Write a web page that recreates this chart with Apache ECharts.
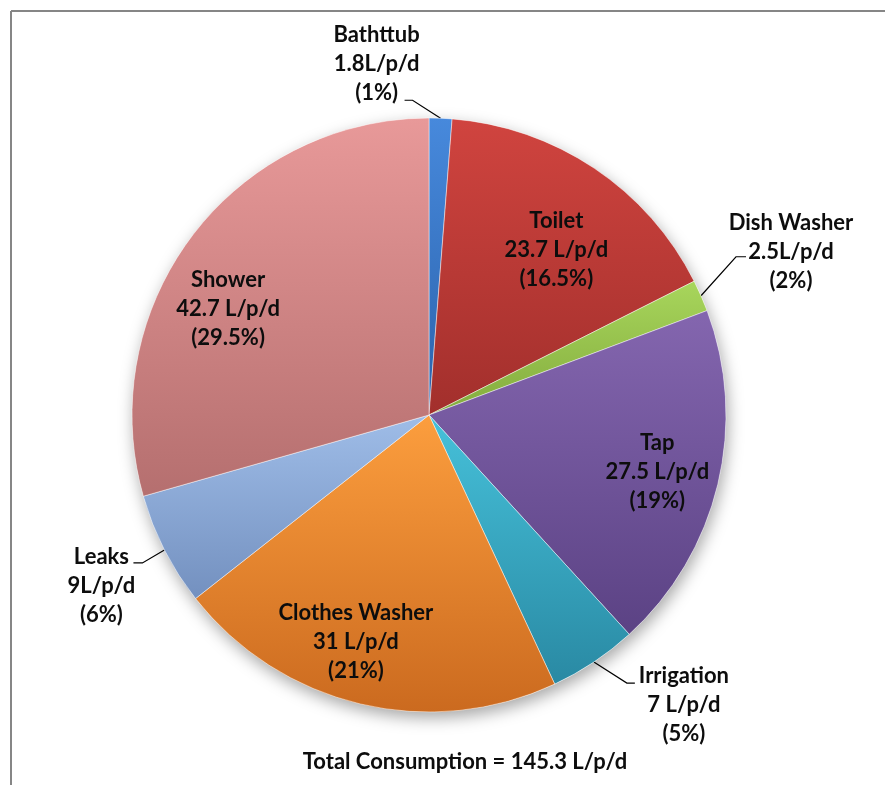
<!DOCTYPE html>
<html>
<head>
<meta charset="utf-8">
<title>Household water use</title>
<script src="https://cdn.jsdelivr.net/npm/echarts@6/dist/echarts.min.js"></script>
<style>
  html, body { margin: 0; padding: 0; background: #ffffff; }
  #chart { width: 885px; height: 785px; }
</style>
</head>
<body>
<div id="chart"></div>
<script>
// Daily household water use per person, by end use (litres / person / day)
const categories = ['Bathttub', 'Toilet', 'Dish Washer', 'Tap', 'Irrigation', 'Clothes Washer', 'Leaks', 'Shower'];
const usage = [1.8, 23.7, 2.5, 27.5, 7, 31, 9, 42.7];
const usageText = ['1.8L/p/d', '23.7 L/p/d', '2.5L/p/d', '27.5 L/p/d', '7 L/p/d', '31 L/p/d', '9L/p/d', '42.7 L/p/d'];
const shareText = ['(1%)', '(16.5%)', '(2%)', '(19%)', '(5%)', '(21%)', '(6%)', '(29.5%)'];
const totalText = 'Total Consumption = 145.3 L/p/d';

// ---- styling ----
const FONT = 'Lato, "Open Sans", "Liberation Sans", sans-serif';
const FONT_SIZE = 22;
const TEXT_COLOR = '#0d0d0d';
const PIE_CENTER = [429, 415];
const PIE_RADIUS = 297;

// top / bottom colour of each slice's vertical shading
const sliceShades = [
  ['#4789dc', '#2b62ab'],
  ['#d0443f', '#a22f2c'],
  ['#a8d65c', '#83ab3d'],
  ['#8466af', '#5b4284'],
  ['#46c1da', '#2989a3'],
  ['#fc9e3e', '#cb6a1f'],
  ['#9fbde8', '#7390bf'],
  ['#e89999', '#b56f6f']
];

// leader lines for the small slices: bend from the rim, short horizontal tail,
// and where the text block centre sits relative to the end of the tail
const leaders = {
  0: { bend: [-28, -18], tail: -8, text: [-28, -36] },
  2: { bend: [35, -39], tail: 10, text: [45, -5] },
  4: { bend: [33, 21], tail: 8, text: [49, 22] },
  6: { bend: [-22, 13], tail: -9, text: [-32, 23] }
};
// shift of the labels drawn on the slices themselves
const insideNudge = {
  1: [43, -39],
  3: [81, 22],
  5: [-38, 80],
  7: [-80, -15]
};

const chart = echarts.init(document.getElementById('chart'), null, { renderer: 'canvas' });

const sliceData = categories.map((name, i) => ({
  name: name,
  value: usage[i],
  itemStyle: {
    color: new echarts.graphic.LinearGradient(0, 0, 0, 1, [
      { offset: 0, color: sliceShades[i][0] },
      { offset: 1, color: sliceShades[i][1] }
    ])
  },
  label: { position: leaders[i] ? 'outside' : 'inside' },
  labelLine: { show: !!leaders[i] }
}));

const totalUsage = usage.reduce((a, b) => a + b, 0);

const option = {
  backgroundColor: '#ffffff',
  animation: false,
  graphic: [
    { type: 'line', z: 10, shape: { x1: 11, y1: 11, x2: 885, y2: 11 }, style: { stroke: '#868686', lineWidth: 2 } },
    { type: 'line', z: 10, shape: { x1: 11, y1: 11, x2: 11, y2: 785 }, style: { stroke: '#868686', lineWidth: 2 } },
    {
      type: 'text', z: 10, x: 465, y: 762,
      style: {
        text: totalText, fill: TEXT_COLOR,
        font: 'bold ' + FONT_SIZE + 'px ' + FONT,
        align: 'center', verticalAlign: 'middle'
      }
    }
  ],
  series: [
    {
      // soft drop shadow under the whole disc
      type: 'pie',
      silent: true,
      z: 1,
      center: PIE_CENTER,
      radius: PIE_RADIUS,
      startAngle: 90,
      label: { show: false },
      labelLine: { show: false },
      emphasis: { disabled: true },
      data: [{
        value: totalUsage,
        itemStyle: {
          color: '#ffffff',
          shadowBlur: 16,
          shadowOffsetX: 2,
          shadowOffsetY: 6,
          shadowColor: 'rgba(0,0,0,0.35)'
        }
      }]
    },
    {
      type: 'pie',
      z: 2,
      center: PIE_CENTER,
      radius: PIE_RADIUS,
      startAngle: 90,
      clockwise: true,
      avoidLabelOverlap: false,
      emphasis: { disabled: true },
      itemStyle: {
        borderColor: 'rgba(255,255,255,0.45)',
        borderWidth: 1
      },
      label: {
        show: true,
        color: TEXT_COLOR,
        formatter: (p) => `{t|${p.name}}\n{t|${usageText[p.dataIndex]}}\n{t|${shareText[p.dataIndex]}}`,
        rich: {
          t: {
            fontFamily: FONT,
            fontSize: FONT_SIZE,
            fontWeight: 'bold',
            lineHeight: 29,
            align: 'center',
            color: TEXT_COLOR
          }
        }
      },
      labelLine: {
        show: true,
        lineStyle: { color: '#000000', width: 1.2 }
      },
      labelLayout: (params) => {
        const i = params.dataIndex;
        const r = params.labelRect;
        const lead = leaders[i];
        if (lead && params.labelLinePoints) {
          const p0 = params.labelLinePoints[0];
          const p1 = [p0[0] + lead.bend[0], p0[1] + lead.bend[1]];
          const p2 = [p1[0] + lead.tail, p1[1]];
          return {
            x: p2[0] + lead.text[0],
            y: p2[1] + lead.text[1],
            align: 'center',
            verticalAlign: 'middle',
            labelLinePoints: [p0, p1, p2]
          };
        }
        const n = insideNudge[i] || [0, 0];
        return {
          x: r.x + r.width / 2 + n[0],
          y: r.y + r.height / 2 + n[1],
          align: 'center',
          verticalAlign: 'middle'
        };
      },
      data: sliceData
    }
  ]
};

chart.setOption(option);
</script>
</body>
</html>
